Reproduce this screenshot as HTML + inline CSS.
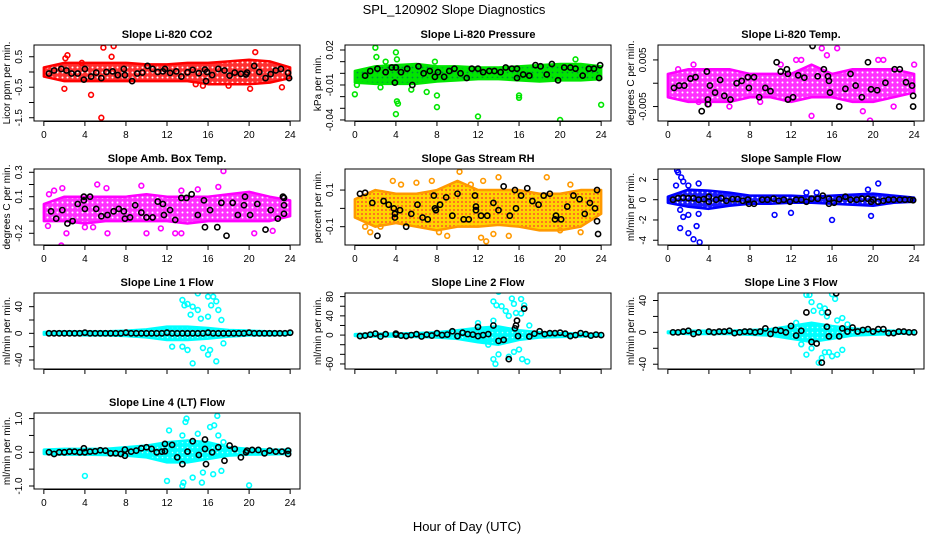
<!DOCTYPE html>
<html><head><meta charset="utf-8"><style>
body{margin:0;background:#fff}
svg{display:block;font-family:"Liberation Sans",sans-serif}
.ttl{font-weight:bold;font-size:11px}
.tk{font-size:10px}
</style></head><body>
<svg id="fig" width="936" height="540" viewBox="0 0 936 540">
<defs>
<pattern id="pt-red" width="5" height="5" patternUnits="userSpaceOnUse"><rect width="5" height="5" fill="#ff3030"/><circle cx="2.5" cy="2.5" r="1" fill="#fff"/></pattern>
<pattern id="pt-green" width="5" height="5" patternUnits="userSpaceOnUse"><rect width="5" height="5" fill="#00e600"/><circle cx="2.5" cy="2.5" r="0.9" fill="#084"/></pattern>
<pattern id="pt-mag" width="5" height="5" patternUnits="userSpaceOnUse"><rect width="5" height="5" fill="#ff30ff"/><circle cx="2.5" cy="2.5" r="1" fill="#fff"/></pattern>
<pattern id="pt-rh" width="4" height="4" patternUnits="userSpaceOnUse"><rect width="4" height="4" fill="#ffd400"/><circle cx="2" cy="2" r="0.9" fill="#f33"/></pattern>
<pattern id="pt-blue" width="5" height="5" patternUnits="userSpaceOnUse"><rect width="5" height="5" fill="#1a1aff"/><circle cx="2.5" cy="2.5" r="0.9" fill="#fff"/></pattern>
<pattern id="pt-cyan" width="5" height="5" patternUnits="userSpaceOnUse"><rect width="5" height="5" fill="#00ffff"/><circle cx="2.5" cy="2.5" r="0.8" fill="#bff"/></pattern>
</defs>
<text x="454" y="14" font-size="13" text-anchor="middle">SPL_120902  Slope Diagnostics</text>
<text x="467" y="531" font-size="13" text-anchor="middle">Hour of Day (UTC)</text>
</svg>
<script>
// ---- shared data ----
const bandHours = [0,2,4,6,8,10,12,14,16,18,20,22,24];
const hourTicks = [0,4,8,12,16,20,24];

// Panel 1: CO2
const co2Lo = [-0.15,-0.3,-0.3,-0.3,-0.3,-0.3,-0.3,-0.3,-0.4,-0.4,-0.4,-0.35,-0.2];
const co2Hi = [0.15,0.3,0.3,0.3,0.3,0.25,0.25,0.3,0.3,0.35,0.4,0.35,0.15];
const co2Out = [[2,-0.55],[2.3,0.55],[2.1,0.45],[4.6,-0.75],[5.6,-1.5],[5.8,0.8],[6.8,0.85],[6.6,0.5],[20.6,0.65],[20.1,-0.55],[23.2,-0.5],[18,-0.45],[15.5,-0.45],[3.7,0.3],[14.8,-0.4]];
const co2Mean = [[0.5,-0.05],[1,0.05],[1.7,0.1],[2.2,0.05],[2.7,-0.05],[3.3,-0.05],[3.9,-0.25],[4,0.1],[4.6,-0.15],[5.1,-0.02],[5.6,-0.2],[6.1,0],[6.7,0.02],[7.2,-0.1],[7.8,0.1],[7.9,-0.1],[8.6,-0.3],[9.1,-0.05],[9.6,-0.02],[10.1,0.2],[10.6,0.1],[11.1,0],[11.6,0.02],[11.8,0.1],[12.3,-0.03],[12.9,0.02],[13.4,-0.15],[14,-0.01],[14.5,0.07],[15.1,-0.04],[15.7,0.08],[15.8,-0.3],[15.9,0],[16.4,-0.1],[17,0.1],[17.6,0.05],[18.1,-0.12],[18.6,-0.02],[19.2,-0.06],[19.7,-0.08],[19.8,-0.02],[20.5,0.2],[21,0],[21.6,-0.2],[22.1,-0.07],[22.6,0.05],[23.1,0.1],[23.8,-0.03],[23.9,-0.2]];

// Panel 2: Pressure
const presLo = [-0.008,-0.009,-0.009,-0.009,-0.007,-0.006,-0.005,-0.005,-0.006,-0.007,-0.006,-0.006,-0.005];
const presHi = [0.002,0.006,0.007,0.008,0.006,0.006,0.005,0.005,0.006,0.007,0.008,0.008,0.006];
const presOut = [[0,-0.018],[0.2,-0.01],[2,0.022],[2.1,0.014],[2.5,-0.012],[4,0.018],[4.1,0.012],[4.1,-0.024],[4.2,-0.026],[4,-0.035],[5.5,-0.014],[7,-0.016],[8,-0.019],[8,-0.029],[12,-0.037],[16,-0.019],[16,-0.021],[20,-0.04],[24,-0.027],[21.5,0.012],[3,0.01],[7.8,0.01]];
const presMean = [[1,-0.002],[1.5,0.002],[2.2,0.004],[3,0.001],[3.6,0.005],[3.9,-0.008],[4,0.005],[4.5,0.001],[5.1,0.004],[5.6,-0.01],[6.2,0.006],[6.7,0],[7.3,0.002],[7.8,-0.003],[8.1,0.001],[8.7,-0.003],[9.2,0.002],[9.7,0.004],[10.3,0],[10.9,-0.004],[11.4,0.004],[12,0.004],[12.5,0.001],[13.1,0.002],[13.6,0.002],[14.2,0.001],[14.7,0.005],[15.3,0.004],[15.8,0.004],[15.8,-0.004],[16.4,-0.001],[17,-0.002],[17.6,0.007],[18.1,0.006],[18.7,-0.001],[19.2,0.008],[19.8,-0.006],[20.4,0.005],[21,0.005],[21.5,0.004],[22.2,-0.002],[22.8,0.004],[23.3,0.004],[23.8,-0.004],[23.9,0.007]];

// Panel 3: Li-820 Temp
const ltLo = [-0.003,-0.004,-0.004,-0.004,-0.003,-0.003,-0.004,-0.003,-0.003,-0.004,-0.004,-0.003,-0.002];
const ltHi = [0.002,0.003,0.003,0.003,0.002,0.002,0.002,0.004,0.002,0.003,0.003,0.003,0.002];
const ltOut = [[2.5,0.004],[3,-0.004],[4,-0.0045],[6,-0.005],[11,0.004],[14,-0.007],[15,0.0075],[15.5,0.006],[16.5,0.0075],[19,-0.006],[19.7,-0.008],[12.5,0.005],[13,0.005],[20.5,0.005],[21,0.005],[24,0.004],[22,-0.005],[1,0.003],[9,-0.004]];
const ltMean = [[0.6,-0.001],[1.1,-0.0005],[1.6,-0.0005],[2.2,0.001],[2.7,0.0013],[3.3,-0.006],[3.8,0.0025],[3.9,-0.0035],[3.9,-0.0045],[4.1,-0.0005],[4.6,-0.002],[5.1,0.0007],[5.5,-0.0027],[6.1,-0.0035],[6.7,0],[7.2,0.0005],[7.8,0.0013],[7.9,-0.001],[8.4,0.0013],[8.9,-0.003],[9.5,-0.001],[10,-0.0017],[10.6,0.0045],[11,0.0025],[11.6,0.003],[11.7,0.002],[11.7,-0.0035],[12.2,-0.003],[12.7,0.0017],[13.3,0.0012],[14.1,0.008],[14.6,0.0015],[15.2,0.003],[15.6,0.0015],[15.7,0.0005],[15.8,-0.002],[16.7,-0.005],[17.3,-0.0012],[17.8,0.002],[18.3,-0.0005],[18.9,-0.003],[19.5,0.0045],[19.8,-0.0013],[20.4,-0.0015],[21.2,0.0001],[22.1,0.003],[22.6,0.003],[23.2,0.0002],[23.8,-0.0005],[23.9,-0.0027],[23.9,-0.005]];

// Panel 4: Amb Box Temp
const abLo = [-0.1,-0.1,-0.12,-0.1,-0.1,-0.1,-0.1,-0.12,-0.1,-0.1,-0.1,-0.1,-0.06];
const abHi = [0.04,0.1,0.1,0.1,0.1,0.12,0.1,0.1,0.1,0.12,0.14,0.1,0.07];
const abOut = [[0.5,0.12],[1,0.15],[1.8,0.17],[1.7,-0.3],[2.2,-0.2],[5.2,0.2],[6.1,0.17],[9.5,0.19],[10,-0.2],[11.4,-0.16],[12.8,-0.2],[13.4,-0.2],[15,0.16],[17.5,0.31],[17,0.18],[20.5,-0.2],[6.2,-0.2],[4,-0.15],[22.3,-0.18],[13.4,0.15],[0.4,-0.14],[4.8,-0.15]];
const abMean = [[0.7,-0.02],[1.2,-0.08],[1.8,-0.01],[2.3,-0.12],[2.8,-0.1],[3.3,0.04],[3.9,0.1],[3.9,0.07],[4,0],[4.5,0.1],[5.1,0],[5.6,-0.06],[6.2,-0.05],[6.8,-0.02],[7.3,0],[7.8,-0.02],[7.9,-0.08],[8.4,-0.07],[8.9,0.03],[9.5,-0.03],[10,-0.07],[10.6,-0.07],[11.1,0.06],[11.6,0.04],[11.7,-0.05],[12.3,-0.01],[12.8,-0.09],[13.4,0.09],[13.9,0.09],[14.4,0.12],[15,-0.05],[15.6,0.07],[15.7,-0.15],[16.2,-0.01],[16.9,-0.15],[17.3,0.05],[17.8,-0.22],[18.4,0.05],[18.9,-0.05],[19.5,0.03],[19.6,0.1],[20.1,-0.05],[20.8,0.04],[21.6,-0.17],[22.1,-0.01],[22.8,-0.08],[23.3,0.1],[23.4,0.09],[23.4,0.03],[23.4,-0.04]];

// Panel 5: Gas Stream RH
const rhLo = [-0.05,-0.1,-0.08,-0.1,-0.12,-0.1,-0.1,-0.09,-0.1,-0.12,-0.12,-0.1,-0.03];
const rhHi = [0.05,0.1,0.08,0.08,0.1,0.15,0.1,0.1,0.1,0.08,0.08,0.1,0.1];
const rhOut = [[1,-0.1],[1.5,-0.13],[2.5,-0.1],[3.7,0.15],[4.5,0.13],[6,0.14],[7.5,0.15],[8.2,-0.13],[9,-0.15],[10.2,0.2],[11.3,0.13],[12.3,-0.16],[12.5,0.15],[13.5,-0.14],[14,0.17],[15,-0.15],[18.7,0.17],[20,-0.12],[22,-0.13],[21,0.13],[12.8,-0.18]];
const rhMean = [[0.5,0.08],[1,0.085],[1.7,0.03],[2.2,-0.15],[2.8,0.04],[3.3,0.02],[3.8,0],[3.9,-0.05],[3.9,-0.03],[4.4,-0.01],[5,-0.1],[5.5,-0.03],[6.1,0.02],[6.6,-0.05],[7.1,-0.06],[7.7,0.07],[7.8,0],[7.9,-0.01],[8.3,0.02],[8.9,0.06],[9.5,-0.04],[10,0.08],[10.6,-0.06],[11.1,-0.06],[11.7,0.07],[11.8,0.01],[11.8,-0.01],[12.3,-0.04],[12.9,-0.04],[13.5,0.03],[14,-0.01],[14.5,0.12],[15.1,-0.04],[15.6,0.1],[15.7,0],[16.2,0.07],[16.8,0.11],[17.3,0.04],[17.9,0.02],[18.4,0.07],[19,0.08],[19.5,-0.06],[19.6,-0.04],[20.1,-0.06],[20.7,0.01],[21.3,0.07],[21.9,0.05],[22.4,-0.03],[22.9,0.03],[23.4,0],[23.6,-0.07],[23.6,0.1],[23.7,-0.14]];

// Panel 6: Sample Flow
const sfLo = [-0.3,-0.7,-0.9,-0.6,-0.4,-0.4,-0.3,-0.3,-0.4,-0.5,-0.6,-0.3,-0.2];
const sfHi = [0.3,1,0.9,0.7,0.4,0.4,0.4,0.3,0.4,0.5,0.6,0.4,0.2];
const sfOut = [[0.9,2.9],[1,2.7],[1.3,2.2],[1.5,1.8],[1.2,-1],[1.5,-1.7],[1.2,-2.8],[2,-3.3],[2.5,-3.9],[2.8,-2.6],[3.1,-4.2],[3,-1.4],[3,1.6],[2,1.4],[2,-1.5],[10.4,-1.5],[12,-1.3],[16,-2],[19.8,-1.6],[20.5,1.6],[13.5,0.7],[14.5,0.7],[19.5,1],[0.8,1.4]];
const sfMean = [[0.5,0],[1,0.15],[1.5,0.2],[2,0.15],[2.5,0.15],[3,0],[3.5,0.05],[4,-0.2],[4,0.3],[4.7,0],[5.2,0.15],[5.7,-0.1],[6.3,0.05],[6.8,0.05],[7.3,-0.1],[7.8,0],[7.9,-0.4],[8.4,-0.4],[9.2,0],[9.7,0],[10.3,0.1],[10.8,-0.1],[11.3,0],[11.9,-0.2],[12.5,0],[13,0],[13.5,-0.2],[14,0.1],[14.6,0.1],[15.1,0.4],[15.7,0.1],[15.7,-0.4],[16.2,-0.3],[16.7,0.05],[17.3,0.3],[17.8,0],[18.4,0],[18.9,0.1],[19.5,0.1],[19.8,-0.2],[20,0],[20.5,-0.2],[21,-0.1],[21.5,0],[22,0],[22.6,0],[23.1,0],[23.6,0],[23.9,-0.05]];

// Panel 7: Line 1 Flow
const l1Lo = [-2,-2,-3,-3,-4,-6,-10,-10,-8,-5,-3,-3,-2];
const l1Hi = [2,3,3,3,4,6,10,10,8,5,4,3,2];
const l1Out = [[13.5,50],[13.7,42],[14,44],[14.3,28],[14.5,40],[15,60],[15,35],[15.3,22],[16,55],[16,25],[16.3,42],[16.5,55],[16.8,48],[17,35],[17.3,20],[14.5,-45],[13.5,-20],[14,-25],[15.5,-22],[16,-32],[16.2,-25],[16.8,-42],[17.5,-15],[12.5,-20]];
const l1Mean = [[0.5,0],[1,0],[1.5,0],[2,0],[2.5,0],[3,0],[3.5,0],[4,1],[4.5,0],[5,0],[5.5,0],[6,0],[6.5,0],[7,0],[7.5,0],[8,1],[8.5,0],[9,0],[9.5,0],[10,0],[10.5,0],[11,0],[11.5,0],[12,1],[12.5,0],[13,0],[13.5,0],[14,0],[14.5,0],[15,0],[15.5,0],[16,1],[16.5,0],[17,0],[17.5,0],[18,0],[18.5,0],[19,0],[19.5,0],[20,1],[20.5,0],[21,0],[21.5,0],[22,0],[22.5,0],[23,0],[23.5,0],[24,1]];

// Panel 8: Line 2 Flow
const l2Lo = [-2,-3,-3,-4,-5,-8,-15,-20,-10,-5,-4,-3,-2];
const l2Hi = [2,3,3,4,6,10,15,18,10,6,4,3,2];
const l2Out = [[13.5,70],[13.8,62],[14,90],[14.3,60],[14.7,50],[15,40],[15.3,76],[15.5,65],[15.7,46],[16.2,75],[16.5,62],[16.2,45],[13,-20],[13.5,-50],[13.7,-60],[14,-40],[15,-45],[15.5,-35],[16,-30],[16.3,-50],[16.8,-55],[12,25],[17,20],[13.5,30]];
const l2Mean = [[0.5,-2],[1,-1],[1.5,1],[2,3],[2.5,-3],[3,2],[4,3],[4,1],[4.5,-1],[5,-2],[5.5,0],[6,2],[6.5,-3],[7,1],[7.5,-1],[8,4],[8.5,0],[9,1],[9.5,8],[10,-2],[10.5,5],[11,2],[11.5,1],[12,17],[12,-2],[12.5,0],[13,2],[13.5,20],[14,-12],[14.5,-10],[15,-50],[15.6,14],[15.7,20],[15.8,30],[15.9,-2],[16.5,55],[17,-3],[17.5,3],[18,8],[18.5,2],[19,4],[19.5,4],[20,5],[20.5,3],[21,-2],[21.5,0],[22,4],[22.5,2],[23,-1],[23.5,1],[24,0]];

// Panel 9: Line 3 Flow
const l3Lo = [-1,-2,-2,-2,-3,-4,-8,-12,-8,-4,-3,-2,-1];
const l3Hi = [1,2,2,2,3,4,8,12,8,5,3,2,1];
const l3Out = [[13.5,47],[13.8,47],[14,38],[14.2,27],[14.8,33],[15,25],[15.3,30],[15.5,20],[16,48],[16.3,42],[16.5,15],[17,18],[13,-15],[13.5,-28],[14,-20],[14.7,-38],[15,-32],[15.3,-25],[15.7,-25],[16,-30],[16.5,-28],[17,-22],[12.5,12],[17.5,10]];
const l3Mean = [[0.5,0],[1,0],[1.5,1],[2,2],[2.5,-2],[3,0],[4,1],[4.5,0],[5,1],[5.5,1],[6,2],[6.5,-1],[7,0],[7.5,1],[8,1],[8.5,0],[9,1],[9.5,5],[10,-2],[10.5,3],[11,2],[11.5,0],[12,8],[12.5,-4],[13,2],[13.5,25],[14,-12],[14.5,-14],[15,-38],[15.5,7],[15.6,25],[15.7,-5],[16.4,49],[16.7,-5],[17,5],[17.5,1],[18,6],[18.5,1],[19,3],[19.5,4],[20,1],[20.5,4],[21,4],[21.5,-1],[22,-1],[22.5,1],[23,1],[23.5,0],[24,0]];

// Panel 10: Line 4 (LT) Flow
const l4Lo = [-0.05,-0.07,-0.07,-0.08,-0.1,-0.15,-0.3,-0.3,-0.2,-0.1,-0.07,-0.06,-0.05];
const l4Hi = [0.08,0.1,0.1,0.1,0.15,0.2,0.3,0.35,0.3,0.15,0.1,0.08,0.08];
const l4Out = [[4,-0.7],[12.2,0.65],[12,-0.85],[13.5,-1],[13.6,-0.9],[13.8,0.9],[13.9,1],[13.5,0.5],[14.5,-0.75],[15,0.55],[15.5,-0.6],[15.4,-0.9],[16.2,0.75],[16.5,-0.65],[16.6,0.8],[16.9,1.08],[17,0.5],[17.3,-0.55],[20,-0.98],[17.5,0.3]];
const l4Mean = [[0.5,0],[1,-0.05],[1.5,0],[2,0],[2.5,0.02],[3,0.02],[3.5,0],[3.9,0.12],[4,0],[4.5,0.02],[5,0.03],[5.5,0.06],[6,0.05],[6.5,-0.03],[7,-0.03],[7.5,-0.05],[7.9,0.08],[7.9,-0.1],[8.5,0.02],[9,0.05],[9.5,0.12],[10,0.15],[10.5,0.1],[11,0],[11.5,0.02],[11.8,0.25],[11.8,0.03],[12.5,0.22],[13,-0.15],[13.5,-0.35],[14,0.02],[14.5,0.33],[15.1,-0.08],[15.7,0.38],[15.7,0.1],[15.8,-0.35],[16.4,0],[17,0.15],[17.6,-0.25],[18.1,0.2],[18.6,0.1],[19.2,-0.15],[19.7,0],[19.8,0.05],[20.3,0.07],[20.9,0.07],[21.5,-0.03],[22,0.05],[22.6,0.02],[23.2,0.02],[23.8,0.05],[23.8,-0.05]];

const NS = "http://www.w3.org/2000/svg";
const svg = document.getElementById('fig');
function mk(tag, attrs, parent){const e=document.createElementNS(NS,tag);for(const k in attrs)e.setAttribute(k,attrs[k]);(parent||svg).appendChild(e);return e;}

const panels = [
 {key:'co2',title:'Slope Li-820 CO2',ylab:'Licor ppm per min.',col:0,row:0,ymin:-1.607,ymax:0.885,ticks:[-1.5,-1,-0.5,0,0.5],labs:['-1.5','','-0.5','','0.5'],lo:co2Lo,hi:co2Hi,out:co2Out,mean:co2Mean,fill:'url(#pt-red)',stroke:'#ff0000',xl:true},
 {key:'pressure',title:'Slope Li-820 Pressure',ylab:'kPa per min.',col:1,row:0,ymin:-0.0409,ymax:0.0243,ticks:[-0.04,-0.03,-0.02,-0.01,0,0.01,0.02],labs:['-0.04','','','-0.01','','','0.02'],lo:presLo,hi:presHi,out:presOut,mean:presMean,fill:'url(#pt-green)',stroke:'#00e600',xl:true},
 {key:'li820-temp',title:'Slope Li-820 Temp.',ylab:'degrees C per min.',col:2,row:0,ymin:-0.0081,ymax:0.0082,ticks:[-0.005,0,0.005],labs:['-0.005','','0.005'],lo:ltLo,hi:ltHi,out:ltOut,mean:ltMean,fill:'url(#pt-mag)',stroke:'#ff00ff',xl:true},
 {key:'amb-box-temp',title:'Slope Amb. Box Temp.',ylab:'degrees C per min.',col:0,row:1,ymin:-0.296,ymax:0.327,ticks:[-0.2,-0.1,0,0.1,0.2,0.3],labs:['-0.2','','','0.1','','0.3'],lo:abLo,hi:abHi,out:abOut,mean:abMean,fill:'url(#pt-mag)',stroke:'#ff00ff',xl:true},
 {key:'gas-rh',title:'Slope Gas Stream RH',ylab:'percent per min.',col:1,row:1,ymin:-0.2,ymax:0.215,ticks:[-0.1,0,0.1],labs:['-0.1','','0.1'],lo:rhLo,hi:rhHi,out:rhOut,mean:rhMean,fill:'url(#pt-rh)',stroke:'#ff9900',xl:true},
 {key:'sample-flow',title:'Slope Sample Flow',ylab:'ml/min per min.',col:2,row:1,ymin:-4.47,ymax:3.03,ticks:[-4,-2,0,2],labs:['-4','-2','0','2'],lo:sfLo,hi:sfHi,out:sfOut,mean:sfMean,fill:'url(#pt-blue)',stroke:'#0000ff',xl:true},
 {key:'line1-flow',title:'Slope Line 1 Flow',ylab:'ml/min per min.',col:0,row:2,ymin:-53.5,ymax:60.5,ticks:[-40,-20,0,20,40],labs:['-40','','0','','40'],lo:l1Lo,hi:l1Hi,out:l1Out,mean:l1Mean,fill:'url(#pt-cyan)',stroke:'#00ffff',xl:false},
 {key:'line2-flow',title:'Slope Line 2 Flow',ylab:'ml/min per min.',col:1,row:2,ymin:-70.5,ymax:87.5,ticks:[-60,-40,-20,0,20,40,60,80],labs:['-60','','','0','','40','','80'],lo:l2Lo,hi:l2Hi,out:l2Out,mean:l2Mean,fill:'url(#pt-cyan)',stroke:'#00ffff',xl:false},
 {key:'line3-flow',title:'Slope Line 3 Flow',ylab:'ml/min per min.',col:2,row:2,ymin:-46,ymax:49.4,ticks:[-40,-20,0,20,40],labs:['-40','','0','','40'],lo:l3Lo,hi:l3Hi,out:l3Out,mean:l3Mean,fill:'url(#pt-cyan)',stroke:'#00ffff',xl:false},
 {key:'line4-flow',title:'Slope Line 4 (LT) Flow',ylab:'ml/min per min.',col:0,row:3,ymin:-1.089,ymax:1.166,ticks:[-1,-0.5,0,0.5,1],labs:['-1.0','','0.0','','1.0'],lo:l4Lo,hi:l4Hi,out:l4Out,mean:l4Mean,fill:'url(#pt-cyan)',stroke:'#00ffff',xl:true}
];
const colLeft=[34,345,658], rowTop=[45,169,293,413], W=266, H=76;
const XMIN=-0.96, XMAX=24.96;

panels.forEach(p=>{
  const L=colLeft[p.col], T=rowTop[p.row];
  const xs=h=>L+(h-XMIN)/(XMAX-XMIN)*W;
  const ys=v=>T+(p.ymax-v)/(p.ymax-p.ymin)*H;
  const g=mk('g',{});
  
  
  const clipId='clip-'+p.key;
  const cp=mk('clipPath',{id:clipId},g); mk('rect',{x:L,y:T,width:W,height:H},cp);
  const pg=mk('g',{'clip-path':'url(#'+clipId+')'},g);
  // band
  let pts=bandHours.map((h,i)=>xs(h)+','+ys(p.hi[i]));
  for(let i=bandHours.length-1;i>=0;i--) pts.push(xs(bandHours[i])+','+ys(p.lo[i]));
  const band=mk('polygon',{points:pts.join(' '),fill:p.fill,stroke:p.stroke,'stroke-width':2.5,'stroke-linejoin':'round'},pg);
  
  
  p.out.forEach(d=>{
    const c=mk('circle',{cx:xs(d[0]),cy:ys(d[1]),r:2.4,fill:'none',stroke:p.stroke,'stroke-width':1.6},pg);
    
    
  });
  p.mean.forEach(d=>{
    const c=mk('circle',{cx:xs(d[0]),cy:ys(d[1]),r:2.6,fill:'none',stroke:'#000','stroke-width':1.6},pg);
    
    
  });
  const box=mk('rect',{x:L,y:T,width:W,height:H,fill:'none',stroke:'#000','stroke-width':1},g);
  
  
  const t=mk('text',{x:L+W/2,y:T-7,'text-anchor':'middle',class:'ttl'},g); t.textContent=p.title;
  
  
  // x axis
  hourTicks.forEach(h=>{
    mk('line',{x1:xs(h),x2:xs(h),y1:T+H,y2:T+H+5,stroke:'#000'},g);
    if(p.xl){const tx=mk('text',{x:xs(h),y:T+H+17,'text-anchor':'middle',class:'tk'},g); tx.textContent=h;
      
      }
  });
  mk('line',{x1:xs(0),x2:xs(24),y1:T+H+0.5,y2:T+H+0.5,stroke:'#000'},g);
  // y axis
  p.ticks.forEach((v,i)=>{
    mk('line',{x1:L-5,x2:L,y1:ys(v),y2:ys(v),stroke:'#000'},g);
    if(p.labs[i]){const ty=mk('text',{transform:'translate('+(L-12)+','+ys(v)+') rotate(-90)','text-anchor':'middle',class:'tk'},g); ty.textContent=p.labs[i];
      
      }
  });
  const yl=mk('text',{transform:'translate('+(L-24)+','+(T+H/2)+') rotate(-90)','text-anchor':'middle',class:'tk'},g); yl.textContent=p.ylab;
  
  
});
</script>
</body></html>
